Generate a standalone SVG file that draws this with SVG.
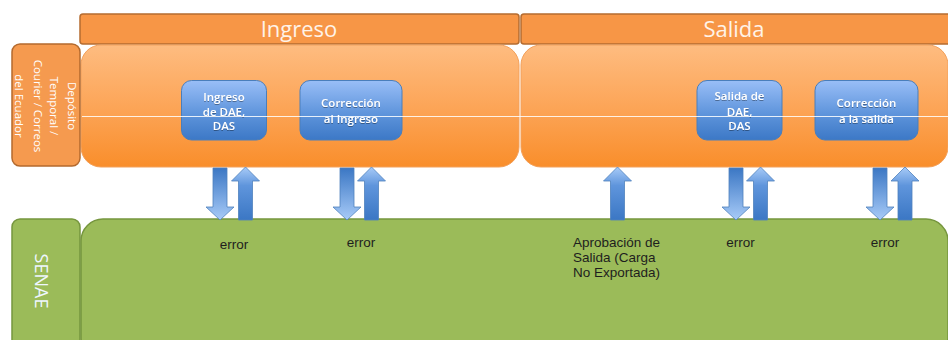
<svg xmlns="http://www.w3.org/2000/svg" width="948" height="340" viewBox="0 0 948 340">
<defs>
<linearGradient id="gOr" x1="0" y1="0" x2="0" y2="1"><stop offset="0" stop-color="#FEBC80"/><stop offset="0.55" stop-color="#FCA354"/><stop offset="1" stop-color="#F98E2B"/></linearGradient>
<linearGradient id="gBl" x1="0" y1="0" x2="0" y2="1"><stop offset="0" stop-color="#99BEF7"/><stop offset="0.55" stop-color="#5F95DC"/><stop offset="1" stop-color="#3C78C6"/></linearGradient>
<linearGradient id="gDown" x1="0" y1="0" x2="0" y2="1"><stop offset="0" stop-color="#3B77C4"/><stop offset="1" stop-color="#A8CBF8"/></linearGradient>
<linearGradient id="gUp" x1="0" y1="0" x2="0" y2="1"><stop offset="0" stop-color="#A8CBF8"/><stop offset="0.35" stop-color="#5F95DC"/><stop offset="1" stop-color="#3B77C4"/></linearGradient>
<path id="down" d="M-7,0 H7 V39 H14 L0,52 L-14,39 H-7 Z"/>
<path id="up" d="M0,0 L14,14 H7 V53 H-7 V14 H-14 Z"/>
<filter id="sh" x="-10%" y="-10%" width="120%" height="130%"><feDropShadow dx="0" dy="1" stdDeviation="0.6" flood-color="#000" flood-opacity="0.35"/></filter>
</defs>
<style>
.hdr{fill:#F79646;stroke:#B56C30;stroke-width:1.5}
.hdrt{font-family:"Open Sans","Noto Sans",sans-serif;font-size:22px;fill:#FFF3E8;text-anchor:middle}
.pan{fill:url(#gOr);stroke:#F3A05A;stroke-width:1}
.lab{fill:#F59A4F;stroke:#B46A2E;stroke-width:1.5}
.labt{font-family:"Open Sans","Noto Sans",sans-serif;font-size:11.5px;fill:#FFFFFF;text-anchor:middle}
.grn{fill:#9BBB59;stroke:#76963E;stroke-width:1.5}
.box{fill:url(#gBl);stroke:#4A7EBB;stroke-width:1}
.boxt{font-family:"Open Sans","Noto Sans",sans-serif;font-size:11.5px;font-weight:600;fill:#FFFFFF;text-anchor:middle}
.arD{fill:url(#gDown);stroke:#4F81BD;stroke-width:0.8}
.arU{fill:url(#gUp);stroke:#4F81BD;stroke-width:0.8}
.lbl{font-family:"Liberation Sans",Arial,sans-serif;font-size:13.5px;fill:#1E1E1E}
</style>

<g id="header-ingreso"><rect class="hdr" x="80" y="14" width="439" height="30" rx="3"/><text class="hdrt" x="299" y="37">Ingreso</text></g>
<g id="header-salida"><rect class="hdr" x="521" y="14" width="440" height="30" rx="3"/><text class="hdrt" x="734" y="37">Salida</text></g>

<g id="panel-ingreso"><rect class="pan" x="81" y="45" width="438" height="122" rx="20"/></g>
<g id="panel-salida"><rect class="pan" x="521" y="45" width="427" height="122" rx="20"/></g>

<g id="lane-deposito"><rect class="lab" x="12" y="44" width="68" height="122" rx="8"/>
<g transform="translate(45,106) rotate(90)">
<text class="labt" x="0" y="-23">Depósito</text>
<text class="labt" x="0" y="-5">Temporal /</text>
<text class="labt" x="0" y="11.5">Courier / Correos</text>
<text class="labt" x="0" y="30">del Ecuador</text>
</g></g>

<g id="box-ingreso-dae"><rect class="box" x="181.5" y="80.5" width="85" height="59.5" rx="10"/>
<g filter="url(#sh)"><text class="boxt" x="224" y="100.5">Ingreso</text><text class="boxt" x="224" y="115.5">de DAE,</text><text class="boxt" x="224" y="130">DAS</text></g></g>
<g id="box-correccion-ingreso"><rect class="box" x="300" y="80.5" width="102" height="59.5" rx="10"/>
<g filter="url(#sh)"><text class="boxt" x="351" y="107">Corrección</text><text class="boxt" x="351" y="122.5">al Ingreso</text></g></g>
<g id="box-salida-dae"><rect class="box" x="697" y="80.5" width="85" height="59.5" rx="10"/>
<g filter="url(#sh)"><text class="boxt" x="739.5" y="100">Salida de</text><text class="boxt" x="739.5" y="115.5">DAE,</text><text class="boxt" x="739.5" y="130">DAS</text></g></g>
<g id="box-correccion-salida"><rect class="box" x="815" y="80.5" width="103" height="59.5" rx="10"/>
<g filter="url(#sh)"><text class="boxt" x="866.5" y="107">Corrección</text><text class="boxt" x="866.5" y="122.5">a la salida</text></g></g>

<line x1="82" y1="116.5" x2="948" y2="116.5" stroke="#FFFFFF" stroke-opacity="0.85" stroke-width="1"/>

<g id="lane-senae"><rect class="grn" x="12" y="219" width="68" height="140" rx="8"/>
<text transform="translate(35,281) rotate(90)" font-family="'Open Sans','Noto Sans',sans-serif" font-size="18" fill="#EEF6FF" text-anchor="middle">SENAE</text></g>
<g id="panel-senae"><rect class="grn" x="81" y="219" width="867" height="140" rx="22"/></g>

<g id="connectors">
<use href="#down" class="arD" transform="translate(220,168)"/>
<use href="#up" class="arU" transform="translate(245.5,167)"/>
<use href="#down" class="arD" transform="translate(347,168)"/>
<use href="#up" class="arU" transform="translate(371.5,167)"/>
<use href="#up" class="arU" transform="translate(617.5,167)"/>
<use href="#down" class="arD" transform="translate(736,168)"/>
<use href="#up" class="arU" transform="translate(760.5,167)"/>
<use href="#down" class="arD" transform="translate(880,168)"/>
<use href="#up" class="arU" transform="translate(905,167)"/>
</g>

<g id="labels">
<text class="lbl" x="234" y="249" text-anchor="middle">error</text>
<text class="lbl" x="361" y="247" text-anchor="middle">error</text>
<text class="lbl" x="573" y="247">Aprobación de</text>
<text class="lbl" x="573" y="262">Salida (Carga</text>
<text class="lbl" x="573" y="277">No Exportada)</text>
<text class="lbl" x="740.5" y="247" text-anchor="middle">error</text>
<text class="lbl" x="885" y="247" text-anchor="middle">error</text>
</g>
</svg>
